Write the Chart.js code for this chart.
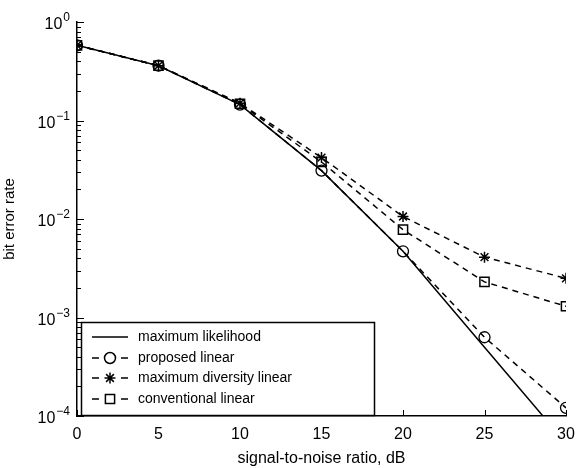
<!DOCTYPE html>
<html>
<head>
<meta charset="utf-8">
<script src="https://cdn.jsdelivr.net/npm/chart.js@4/dist/chart.umd.min.js"></script>
<style>
  html, body { margin: 0; padding: 0; background: #fff; }
  #wrap { width: 577px; height: 468px; }
</style>
</head>
<body>
<div id="wrap"><canvas id="berChart"></canvas></div>
<script>
// valores
const snr = [0, 5, 10, 15, 20, 25, 30];
const maxLikelihood = [0.58, 0.36, 0.145, 0.031, 0.0047, 0.0005, 0.000053];
const proposedLinear = [0.58, 0.36, 0.145, 0.031, 0.0047, 0.00063, 0.000121];
const maxDiversity = [0.58, 0.36, 0.15, 0.042, 0.0106, 0.0041, 0.0025];
const conventionalLinear = [0.58, 0.36, 0.148, 0.038, 0.0078, 0.0023, 0.0013];
const xTicks = [0, 5, 10, 15, 20, 25, 30];
const yExponents = [0, -1, -2, -3, -4];

const FONT = "'Liberation Sans', Arial, sans-serif";
const toPoints = arr => snr.map((x, i) => ({ x: x, y: arr[i] }));

// ticks hacia dentro, etiquetas 10^n y leyenda dentro del área
const axesPlugin = {
    id: 'axesPlugin',
    afterDraw(chart) {
        const ctx = chart.ctx;
        const xs = chart.scales.x, ys = chart.scales.y;
        const area = chart.chartArea;
        ctx.save();
        ctx.strokeStyle = '#000';
        ctx.lineWidth = 1;
        // ticks eje y
        yExponents.forEach(e => {
            const py = Math.round(ys.getPixelForValue(Math.pow(10, e))) + 0.5;
            ctx.beginPath(); ctx.moveTo(area.left, py); ctx.lineTo(area.left + 7, py); ctx.stroke();
            if (e < 0) {
                for (let k = 2; k <= 9; k++) {
                    const my = Math.round(ys.getPixelForValue(k * Math.pow(10, e))) + 0.5;
                    ctx.beginPath(); ctx.moveTo(area.left, my); ctx.lineTo(area.left + 4, my); ctx.stroke();
                }
            }
            // etiqueta 10^e
            ctx.fillStyle = '#000';
            ctx.textBaseline = 'middle';
            ctx.textAlign = 'right';
            ctx.font = '12px ' + FONT;
            const sup = e === 0 ? '0' : '\u2212' + (-e);
            const supW = ctx.measureText(sup).width;
            const right = area.left - 7;
            ctx.fillText(sup, right, py - 5);
            ctx.font = '16px ' + FONT;
            ctx.fillText('10', right - supW - 1, py + 2);
        });
        // ticks eje x
        xTicks.forEach(v => {
            const px = Math.round(xs.getPixelForValue(v)) + 0.5;
            ctx.beginPath(); ctx.moveTo(px, area.bottom); ctx.lineTo(px, area.bottom - 6); ctx.stroke();
        });
        // leyenda
        const box = { l: 81.5, t: 322.5, w: 293, h: 93 };
        ctx.fillStyle = '#fff';
        ctx.fillRect(box.l, box.t, box.w, box.h);
        ctx.lineWidth = 1.5;
        ctx.strokeRect(box.l, box.t, box.w, box.h);
        const rows = [337, 358, 378, 399];
        chart.data.datasets.forEach((ds, i) => {
            const y = rows[i];
            ctx.strokeStyle = '#000';
            ctx.lineWidth = 1.5;
            ctx.setLineDash([]);
            ctx.beginPath();
            if (ds.borderDash && ds.borderDash.length) {
                ctx.moveTo(92, y); ctx.lineTo(99, y);
                ctx.moveTo(121, y); ctx.lineTo(128, y);
            } else {
                ctx.moveTo(92, y); ctx.lineTo(128, y);
            }
            ctx.stroke();
            if (ds.pointRadius > 0) {
                ctx.fillStyle = '#fff';
                Chart.helpers.drawPoint(ctx, {
                    pointStyle: ds.pointStyle, radius: ds.pointRadius,
                    rotation: 0, borderWidth: ds.pointBorderWidth
                }, 110, y);
            }
            ctx.fillStyle = '#000';
            ctx.font = '14px ' + FONT;
            ctx.textAlign = 'left';
            ctx.textBaseline = 'middle';
            ctx.fillText(ds.label, 138, y);
        });
        ctx.restore();
    }
};

const ctx = document.getElementById('berChart').getContext('2d');
const berChart = new Chart(ctx, {
    type: 'line',
    data: {
        datasets: [{
            label: 'maximum likelihood',
            data: toPoints(maxLikelihood),
            borderColor: '#000',
            borderWidth: 1.5,
            pointRadius: 0,
            pointStyle: 'line'
        }, {
            label: 'proposed linear',
            data: toPoints(proposedLinear),
            borderColor: '#000',
            borderWidth: 1.5,
            borderDash: [6, 5],
            pointStyle: 'circle',
            pointRadius: 5.5,
            pointBorderWidth: 1.3,
            pointBackgroundColor: 'rgba(0,0,0,0)',
            pointBorderColor: '#000'
        }, {
            label: 'maximum diversity linear',
            data: toPoints(maxDiversity),
            borderColor: '#000',
            borderWidth: 1.5,
            borderDash: [6, 5],
            pointStyle: 'star',
            pointRadius: 5.5,
            pointBorderWidth: 1.5,
            pointBackgroundColor: 'rgba(0,0,0,0)',
            pointBorderColor: '#000'
        }, {
            label: 'conventional linear',
            data: toPoints(conventionalLinear),
            borderColor: '#000',
            borderWidth: 1.5,
            borderDash: [6, 5],
            pointStyle: 'rect',
            pointRadius: 6.5,
            pointBorderWidth: 1.5,
            pointBackgroundColor: 'rgba(0,0,0,0)',
            pointBorderColor: '#000'
        }]
    },
    options: {
        responsive: true,
        maintainAspectRatio: false,
        animation: false,
        layout: { padding: { top: 22, right: 11, left: 0, bottom: 0 } },
        plugins: {
            legend: { display: false },
            tooltip: { enabled: false }
        },
        scales: {
            x: {
                type: 'linear',
                min: 0,
                max: 30,
                afterBuildTicks: s => { s.ticks = xTicks.map(v => ({ value: v })); },
                afterFit: s => { s.height = 52; s.paddingLeft = 0; s.paddingRight = 0; },
                grid: { display: false, drawTicks: false },
                border: { display: true, color: '#000', width: 1.5 },
                ticks: {
                    color: '#000',
                    font: { family: FONT, size: 16 },
                    padding: 9,
                    maxRotation: 0
                },
                title: {
                    display: true,
                    text: 'signal-to-noise ratio, dB',
                    color: '#000',
                    font: { family: FONT, size: 16 },
                    padding: { top: 0, bottom: 0 }
                }
            },
            y: {
                type: 'logarithmic',
                min: 0.0001,
                max: 1,
                afterFit: s => { s.width = 77; s.paddingTop = 0; s.paddingBottom = 0; },
                grid: { display: false, drawTicks: false },
                border: { display: true, color: '#000', width: 1.5 },
                ticks: { display: false },
                title: {
                    display: true,
                    text: 'bit error rate',
                    color: '#000',
                    font: { family: FONT, size: 15 },
                    padding: { top: 1, bottom: 0 }
                }
            }
        }
    },
    plugins: [axesPlugin]
});
</script>
</body>
</html>
